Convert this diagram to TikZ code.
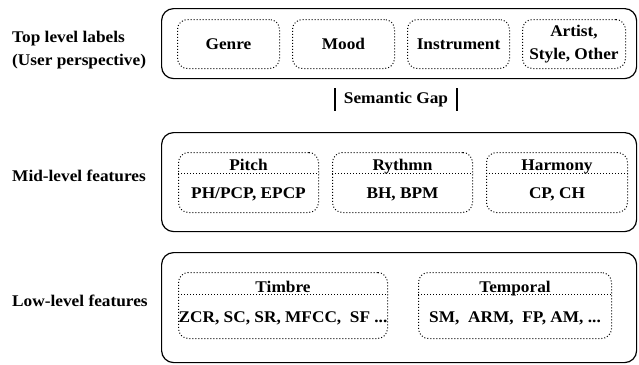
\documentclass[tikz,border=0pt]{standalone}
\usepackage{fontspec}
\setmainfont[FakeStretch=1.06]{Liberation Serif}
\usetikzlibrary{positioning}

\begin{document}
\begin{tikzpicture}[
  x=1pt,y=-1pt,
  font=\fontsize{16.3}{23.5}\selectfont\bfseries,
  node distance=12pt,
  layer/.style={draw,line width=1.2pt,rounded corners=12pt,minimum width=475pt,anchor=north west,inner sep=0pt},
  group/.style={draw,dotted,line width=1pt,rounded corners=10pt,inner sep=0pt,align=center},
  side/.style={anchor=west,align=left,inner sep=0pt},
  gapbar/.style={line width=1.6pt}
]
  \useasboundingbox (0,0) rectangle (639,364);

  % the three layers
  \node[layer,minimum height=70pt] (top) at (161,8) {};
  \node[layer,minimum height=99pt] (mid) at (161,132) {};
  \node[layer,minimum height=110pt] (low) at (161,252) {};

  \node[side] (toplabel) at (12,50) {Top level labels\\(User perspective)};
  \node[side] (midlabel) at (12,176) {Mid-level features};
  \node[side] (lowlabel) at (12,300.5) {Low-level features};

  % top level labels
  \node[group,anchor=north west,minimum width=102pt,minimum height=49pt] (genre) at (177,19) {Genre};
  \node[group,right=of genre,minimum width=102pt,minimum height=49pt] (mood) {Mood};
  \node[group,right=of mood,minimum width=102pt,minimum height=49pt] (instrument) {Instrument};
  \node[group,right=of instrument,minimum width=103pt,minimum height=49pt] (artist) {Artist,\\Style, Other};

  % semantic gap
  \node[inner xsep=9pt,inner ysep=0pt,minimum height=22pt] (gap) at (396,99.5) {Semantic Gap};
  \draw[gapbar] (gap.north west) -- (gap.south west);
  \draw[gapbar] (gap.north east) -- (gap.south east);

  % mid-level features
  \node[group,anchor=north west,minimum width=140pt,minimum height=60pt] (pitch) at (178,152) {};
  \node[group,right=13pt of pitch,minimum width=140pt,minimum height=60pt] (rythmn) {};
  \node[group,right=13pt of rythmn,minimum width=141pt,minimum height=60pt] (harmony) {};
  \foreach \g/\head/\body in {pitch/Pitch/{PH/PCP, EPCP},rythmn/Rythmn/{BH, BPM},harmony/Harmony/{CP, CH}} {
    \draw[dotted,line width=1pt] ([yshift=-21pt]\g.north west) -- ([yshift=-21pt]\g.north east);
    \node[anchor=base,inner sep=0pt] (\g head) at ([yshift=-18pt]\g.north) {\head};
    \node[anchor=base,inner sep=0pt] (\g body) at ([yshift=-46pt]\g.north) {\body};
  }

  % low-level features
  \node[group,anchor=north west,minimum width=209pt,minimum height=66pt] (timbre) at (178,272) {};
  \node[group,right=30pt of timbre,minimum width=193pt,minimum height=66pt] (temporal) {};
  \foreach \g/\head/\body in {timbre/Timbre/{ZCR, SC, SR, MFCC,\ \ SF ...},temporal/Temporal/{SM,\ \ ARM,\ \ FP, AM, ...}} {
    \draw[dotted,line width=1pt] ([yshift=-22pt]\g.north west) -- ([yshift=-22pt]\g.north east);
    \node[anchor=base,inner sep=0pt] (\g head) at ([yshift=-20pt]\g.north) {\head};
    \node[anchor=base,inner sep=0pt] (\g body) at ([yshift=-50pt]\g.north) {\body};
  }
\end{tikzpicture}
\end{document}
